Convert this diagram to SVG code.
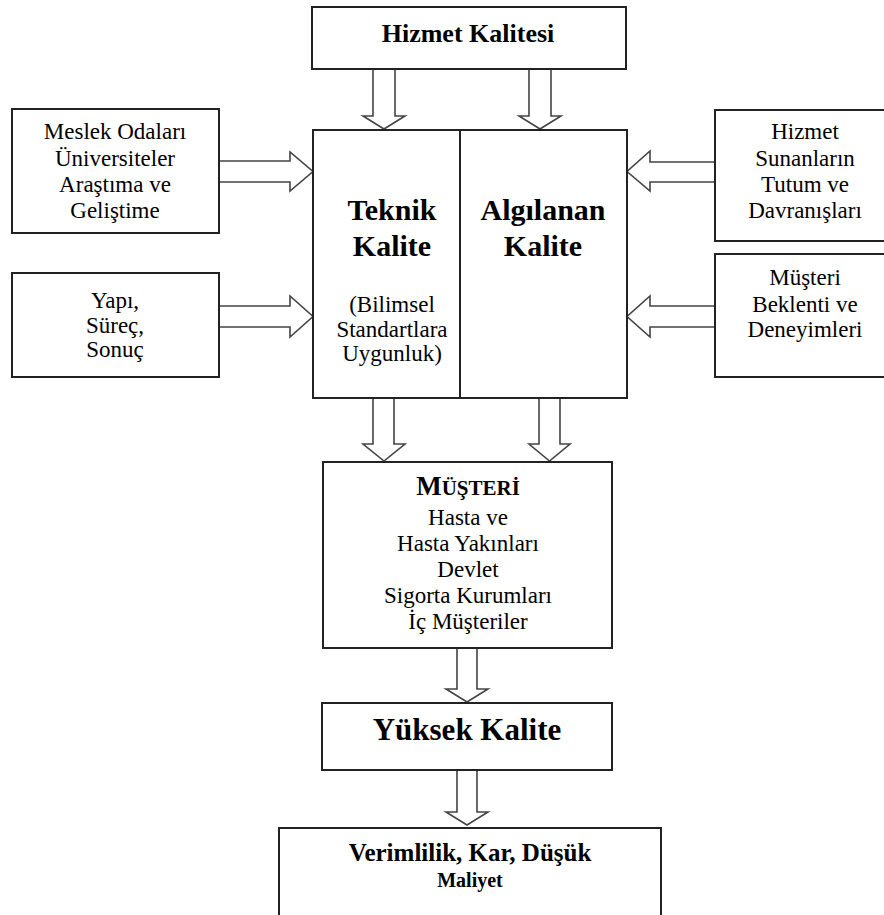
<svg xmlns="http://www.w3.org/2000/svg" width="884" height="915" viewBox="0 0 884 915">
<style>
.box{fill:#fff;stroke:#222;stroke-width:2}
.arr{fill:#fff;stroke:#444;stroke-width:1.6;stroke-linejoin:miter}
text{font-family:'Liberation Serif','DejaVu Serif',serif;fill:#000;text-anchor:middle}
.r{font-size:23px}
.b{font-weight:bold}
</style>
<rect width="884" height="915" fill="#fff"/>
<g id="connectors">
<polygon class="arr" points="373,69 395,69 395,116 405,116 384,129 363,116 373,116"/>
<polygon class="arr" points="529,69 551,69 551,116 561,116 540,129 519,116 529,116"/>
<polygon class="arr" points="219,161 290,161 290,152 313,171.5 290,191 290,182 219,182"/>
<polygon class="arr" points="219,306 290,306 290,296 313,316.5 290,337 290,327 219,327"/>
<polygon class="arr" points="715,162 650,162 650,151 627,171.5 650,191 650,182 715,182"/>
<polygon class="arr" points="715,306 650,306 650,296 627,316.5 650,337 650,327 715,327"/>
<polygon class="arr" points="373,398 394,398 394,444 405,444 384,461 363,444 373,444"/>
<polygon class="arr" points="539,398 560,398 560,444 570,444 549.5,461 529,444 539,444"/>
<polygon class="arr" points="457,648 477,648 477,689 488,689 467,702 446,689 457,689"/>
<polygon class="arr" points="457,770 477,770 477,812 488,812 467,825 446,812 457,812"/>
</g>
<g id="hizmet-kalitesi">
<rect class="box" x="312" y="7" width="314" height="62"/>
<text x="468" y="42" class="b" font-size="26">Hizmet Kalitesi</text>
</g>
<g id="meslek">
<rect class="box" x="12" y="109" width="207" height="124"/>
<text class="r" x="115" y="139">Meslek Odaları</text>
<text class="r" x="115" y="166">Üniversiteler</text>
<text class="r" x="115" y="192">Araştıma ve</text>
<text class="r" x="115" y="218">Geliştime</text>
</g>
<g id="yapi">
<rect class="box" x="12" y="273" width="207" height="104"/>
<text class="r" x="115" y="308">Yapı,</text>
<text class="r" x="115" y="333">Süreç,</text>
<text class="r" x="115" y="357">Sonuç</text>
</g>
<g id="hizmet-sunanlar">
<rect class="box" x="715" y="110" width="180" height="131"/>
<text class="r" x="805" y="139">Hizmet</text>
<text class="r" x="805" y="166">Sunanların</text>
<text class="r" x="805" y="192">Tutum ve</text>
<text class="r" x="805" y="218">Davranışları</text>
</g>
<g id="musteri-beklenti">
<rect class="box" x="715" y="254" width="180" height="123"/>
<text class="r" x="805" y="285">Müşteri</text>
<text class="r" x="805" y="312">Beklenti ve</text>
<text class="r" x="805" y="337">Deneyimleri</text>
</g>
<g id="kalite">
<rect class="box" x="313" y="130" width="314" height="268"/>
<line x1="460" y1="130" x2="460" y2="398" stroke="#222" stroke-width="2"/>
<text x="392" y="220" class="b" font-size="30">Teknik</text>
<text x="392" y="256" class="b" font-size="30">Kalite</text>
<text x="543" y="220" class="b" font-size="30">Algılanan</text>
<text x="543" y="256" class="b" font-size="30">Kalite</text>
<text class="r" x="392" y="312">(Bilimsel</text>
<text class="r" x="392" y="337">Standartlara</text>
<text class="r" x="392" y="361">Uygunluk)</text>
</g>
<g id="musteri">
<rect class="box" x="323" y="462" width="289" height="186"/>
<text x="468" y="495" class="b" font-size="21"><tspan font-size="27">M</tspan>ÜŞTERİ</text>
<text class="r" x="468" y="525">Hasta ve</text>
<text class="r" x="468" y="551">Hasta Yakınları</text>
<text class="r" x="468" y="577">Devlet</text>
<text class="r" x="468" y="603">Sigorta Kurumları</text>
<text class="r" x="468" y="629">İç Müşteriler</text>
</g>
<g id="yuksek-kalite">
<rect class="box" x="322" y="703" width="290" height="67"/>
<text x="467" y="740" class="b" font-size="31">Yüksek Kalite</text>
</g>
<g id="verimlilik">
<rect class="box" x="279" y="828" width="382" height="100"/>
<text x="470" y="861" class="b" font-size="25">Verimlilik, Kar, Düşük</text>
<text x="470" y="887" class="b" font-size="20">Maliyet</text>
</g>
</svg>
